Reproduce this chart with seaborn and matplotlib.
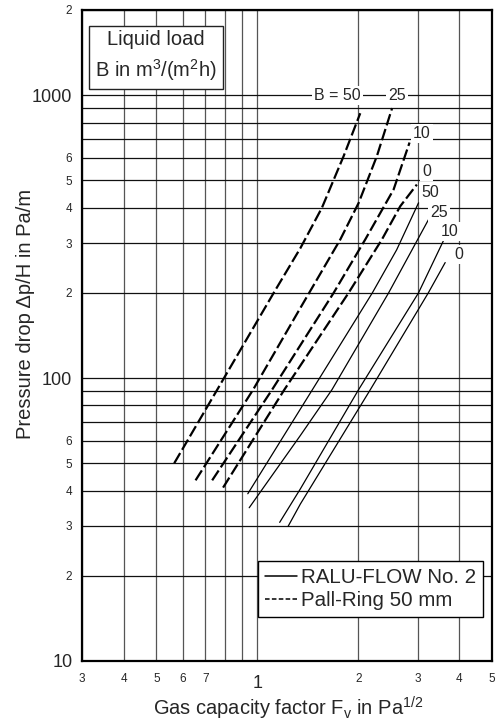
import matplotlib
matplotlib.use('Agg')
import matplotlib.pyplot as plt
import seaborn as sns
import pandas as pd
from matplotlib.lines import Line2D
from matplotlib.ticker import FixedLocator, FixedFormatter

# Pall-Ring 50 mm (dashed), pressure drop vs gas capacity factor
pall_b50_fv = [0.565, 0.759, 1.118, 1.343, 1.557, 1.807, 2.025]
pall_b50_dp = [50, 91, 200, 288, 400, 609, 863]
pall_b25_fv = [0.654, 0.971, 1.343, 1.766, 2.003, 2.27, 2.52]
pall_b25_dp = [43.5, 91, 177, 309, 416, 609, 900]
pall_b10_fv = [0.733, 1.106, 1.687, 2.096, 2.546, 2.84]
pall_b10_dp = [43.5, 91, 200, 309, 464, 680]
pall_b0_fv = [0.79, 1.203, 1.869, 2.35, 2.665, 2.986]
pall_b0_dp = [41, 91, 200, 309, 405, 483]

# RALU-FLOW No. 2 (solid)
ralu_b50_fv = [0.936, 1.45, 2.2, 2.6, 3.02]
ralu_b50_dp = [39, 90, 200, 284, 416]
ralu_b25_fv = [0.945, 1.343, 1.668, 2.46, 3.234]
ralu_b25_dp = [34.8, 62.7, 91, 200, 363]
ralu_b10_fv = [1.165, 1.343, 2.002, 3.02, 3.58]
ralu_b10_dp = [30.9, 40.6, 91, 200, 305]
ralu_b0_fv = [1.234, 1.343, 2.17, 3.23, 3.627]
ralu_b0_dp = [29.9, 35.9, 91, 200, 256]

packings = ['RALU-FLOW No. 2', 'Pall-Ring 50 mm']
b_values = [50, 25, 10, 0]

curves = {
    ('Pall-Ring 50 mm', 50): (pall_b50_fv, pall_b50_dp),
    ('Pall-Ring 50 mm', 25): (pall_b25_fv, pall_b25_dp),
    ('Pall-Ring 50 mm', 10): (pall_b10_fv, pall_b10_dp),
    ('Pall-Ring 50 mm', 0): (pall_b0_fv, pall_b0_dp),
    ('RALU-FLOW No. 2', 50): (ralu_b50_fv, ralu_b50_dp),
    ('RALU-FLOW No. 2', 25): (ralu_b25_fv, ralu_b25_dp),
    ('RALU-FLOW No. 2', 10): (ralu_b10_fv, ralu_b10_dp),
    ('RALU-FLOW No. 2', 0): (ralu_b0_fv, ralu_b0_dp),
}

rows = []
for (pack, b), (fv, dp) in curves.items():
    for xv, yv in zip(fv, dp):
        rows.append({'packing': pack, 'B': b, 'curve': f'{pack} {b}', 'Fv': xv, 'dp': yv})
df = pd.DataFrame(rows)

sns.set_style('white')
plt.rcParams['font.family'] = ['Liberation Sans', 'DejaVu Sans']
plt.rcParams['mathtext.fontset'] = 'custom'
plt.rcParams['mathtext.rm'] = 'Liberation Sans'

fig = plt.figure(figsize=(4.99, 7.23), dpi=100)
ax = fig.add_axes([0.1643, 0.0858, 0.8216, 0.9004])
ax.set_xscale('log')
ax.set_yscale('log')

sns.lineplot(data=df, x='Fv', y='dp', units='curve', estimator=None, sort=False,
             style='packing', dashes={'RALU-FLOW No. 2': '', 'Pall-Ring 50 mm': (5.3, 1.7)},
             size='packing', sizes={'RALU-FLOW No. 2': 0.9, 'Pall-Ring 50 mm': 1.6},
             color='black', legend=False, ax=ax, zorder=3)

ax.set_xlim(0.3, 5)
ax.set_ylim(10, 2000)

# ticks and grid
x_major = [1]
x_minor = [0.3, 0.4, 0.5, 0.6, 0.7, 0.8, 0.9, 2, 3, 4, 5]
x_minor_labels = ['3', '4', '5', '6', '7', '', '', '2', '3', '4', '5']
y_major = [10, 100, 1000]
y_minor = [20, 30, 40, 50, 60, 70, 80, 90, 200, 300, 400, 500, 600, 700, 800, 900, 2000]
y_minor_labels = ['2', '3', '4', '5', '6', '', '', '', '2', '3', '4', '5', '6', '', '', '', '2']

ax.xaxis.set_major_locator(FixedLocator(x_major))
ax.xaxis.set_major_formatter(FixedFormatter(['1']))
ax.xaxis.set_minor_locator(FixedLocator(x_minor))
ax.xaxis.set_minor_formatter(FixedFormatter(x_minor_labels))
ax.yaxis.set_major_locator(FixedLocator(y_major))
ax.yaxis.set_major_formatter(FixedFormatter(['10', '100', '1000']))
ax.yaxis.set_minor_locator(FixedLocator(y_minor))
ax.yaxis.set_minor_formatter(FixedFormatter(y_minor_labels))

ax.tick_params(which='both', length=0)
ax.tick_params(axis='y', which='major', labelsize=13, pad=7)
ax.tick_params(axis='y', which='minor', labelsize=8.5, pad=7)
ax.tick_params(axis='x', which='major', labelsize=13, pad=10)
ax.tick_params(axis='x', which='minor', labelsize=8.5, pad=9)

ax.xaxis.grid(True, which='both', color='#555555', linewidth=0.9)
ax.yaxis.grid(True, which='both', color='#111111', linewidth=0.9)
ax.set_axisbelow(True)

for s in ax.spines.values():
    s.set_linewidth(1.6)
    s.set_color('black')

ax.set_xlabel('Gas capacity factor F$_\\mathregular{v}$ in Pa$^\\mathregular{1/2}$', fontsize=14.5)
ax.set_ylabel('Pressure drop \u0394p/H in Pa/m', fontsize=14.5)
ax.xaxis.set_label_coords(0.502, -0.052)
ax.yaxis.set_label_coords(-0.115, 0.533)

# curve labels
lbl_kw = dict(fontsize=11.5, ha='center', va='center', zorder=4,
              bbox=dict(facecolor='white', edgecolor='none', pad=1.5))
ax.text(1.73, 1000, 'B = 50', **lbl_kw)
ax.text(2.61, 1000, '25', **lbl_kw)
ax.text(3.09, 733, '10', **lbl_kw)
ax.text(3.2, 538, '0', **lbl_kw)
ax.text(3.27, 453, '50', **lbl_kw)
ax.text(3.48, 385, '25', **lbl_kw)
ax.text(3.74, 330, '10', **lbl_kw)
ax.text(3.97, 273, '0', **lbl_kw)

ax.text(0.181, 0.9285, 'Liquid load\nB in m$^\\mathregular{3}$/(m$^\\mathregular{2}$h)',
        transform=ax.transAxes, fontsize=14.5, ha='center', va='center',
        multialignment='center', linespacing=1.4, zorder=5,
        bbox=dict(boxstyle='square,pad=0.3', facecolor='white', edgecolor='#222222', linewidth=1))

handles = [Line2D([], [], color='black', linewidth=1.1),
           Line2D([], [], color='black', linewidth=1.1, dashes=(3, 1.5))]
leg = ax.legend(handles, packings, loc='lower right', bbox_to_anchor=(0.9788, 0.0671),
                borderaxespad=0, fontsize=14.8, handlelength=1.56, handletextpad=0.2,
                labelspacing=0.2, borderpad=0.35, fancybox=False, framealpha=1,
                edgecolor='black')
leg.get_frame().set_linewidth(1)
leg.set_zorder(6)

fig.savefig('out.png', dpi=100)
